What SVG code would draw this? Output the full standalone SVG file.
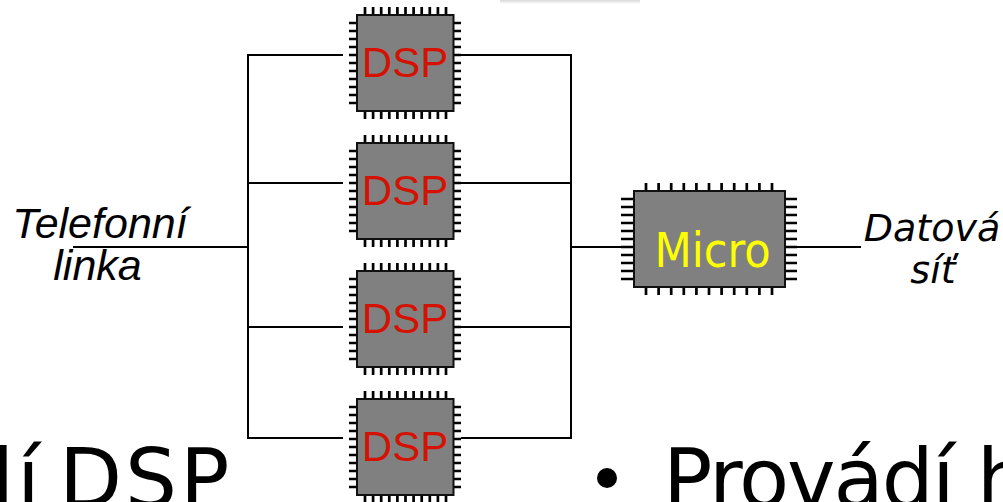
<svg xmlns="http://www.w3.org/2000/svg" width="1003" height="502" viewBox="0 0 1003 502">
<style>
.w{fill:none;stroke:#000;stroke-width:2}
.b{fill:#808080;stroke:#111;stroke-width:2}
.p{fill:none;stroke:#000;stroke-width:2.700}
.dsp{font:42px "Liberation Sans",Arial,sans-serif;fill:#d41204;text-anchor:middle}
.mic{font:48px "DejaVu Sans",sans-serif;font-stretch:condensed;fill:#ff0;text-anchor:middle}
.l1{font:italic 43px "Liberation Sans",Arial,sans-serif;fill:#000;text-anchor:middle}
.l2{font:italic 38px "DejaVu Sans",sans-serif;fill:#000;text-anchor:middle}
.big{font:82px "DejaVu Sans",sans-serif;fill:#000}
</style>
<defs>
<linearGradient id="fade" x1="0" y1="0" x2="0" y2="1"><stop offset="0" stop-color="#d8d8d8"/><stop offset="1" stop-color="#fff"/></linearGradient>
<g id="dsp-chip">
<path class="p" d="M365 7v8M373.100 7v8M381.200 7v8M389.300 7v8M397.400 7v8M405.500 7v8M413.600 7v8M421.700 7v8M429.800 7v8M437.900 7v8M446 7v8M365 111v8M373.100 111v8M381.200 111v8M389.300 111v8M397.400 111v8M405.500 111v8M413.600 111v8M421.700 111v8M429.800 111v8M437.900 111v8M446 111v8M349 23h8M349 31h8M349 39h8M349 47h8M349 55h8M349 63h8M349 71h8M349 79h8M349 87h8M349 95h8M349 103h8M454 23h7M454 31h7M454 39h7M454 47h7M454 55h7M454 63h7M454 71h7M454 79h7M454 87h7M454 95h7M454 103h7"/>
<rect class="b" x="357" y="15" width="96.500" height="96"/>
</g>
</defs>
<rect x="500" y="0" width="140" height="4" fill="url(#fade)"/>
<text class="big" x="-38" y="507" style="letter-spacing:3px;word-spacing:-13px">dí DSP</text>
<circle cx="607" cy="478" r="10"/>
<text class="big" x="663" y="507" style="letter-spacing:-2px">Provádí h</text>
<g id="connectors">
<path class="w" d="M343 55H248V438H343M248 183H343M248 327H343M73 247H248M461 55H571V438H461M461 183H571M461 327H571M571 247H621M797 247H861"/>
</g>
<g id="dsp1"><use href="#dsp-chip"/><text class="dsp" x="405" y="77">DSP</text></g>
<g id="dsp2"><use href="#dsp-chip" y="128"/><text class="dsp" x="405" y="205">DSP</text></g>
<g id="dsp3"><use href="#dsp-chip" y="256"/><text class="dsp" x="405" y="333">DSP</text></g>
<g id="dsp4"><use href="#dsp-chip" y="384"/><text class="dsp" x="405" y="461">DSP</text></g>
<g id="micro">
<path class="p" d="M646 183v8M658.600 183v8M671.200 183v8M683.800 183v8M696.400 183v8M709 183v8M721.600 183v8M734.200 183v8M746.800 183v8M759.400 183v8M772 183v8M646 287v8M658.600 287v8M671.200 287v8M683.800 287v8M696.400 287v8M709 287v8M721.600 287v8M734.200 287v8M746.800 287v8M759.400 287v8M772 287v8M621 199h13M621 207h13M621 215h13M621 223h13M621 231h13M621 239h13M621 247h13M621 255h13M621 263h13M621 271h13M621 279h13M785 199h12M785 207h12M785 215h12M785 223h12M785 231h12M785 239h12M785 247h12M785 255h12M785 263h12M785 271h12M785 279h12"/>
<rect class="b" x="634" y="191" width="151" height="96"/>
<text class="mic" x="712.500" y="267">Micro</text>
</g>
<g id="telefonni"><text class="l1" x="100" y="238">Telefonní</text><text class="l1" x="97.500" y="280">linka</text></g>
<g id="datova"><text class="l2" x="932" y="241">Datová</text><text class="l2" x="933" y="283">síť</text></g>
</svg>
